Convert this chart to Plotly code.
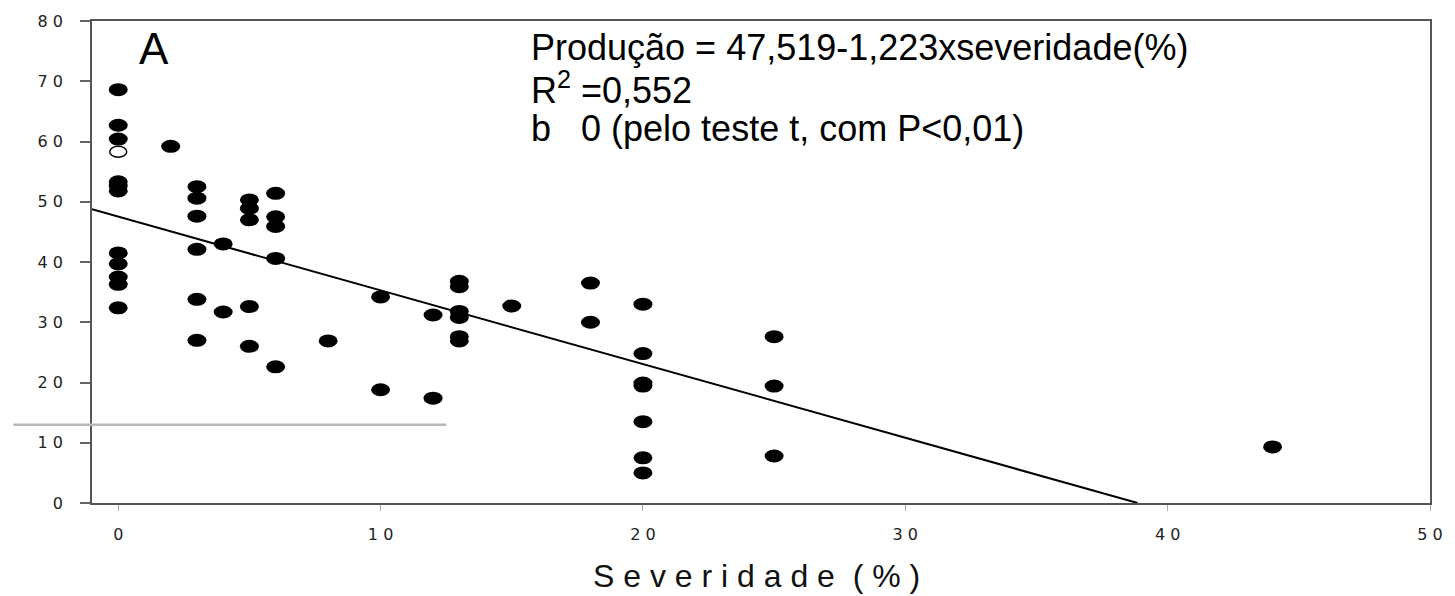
import plotly.graph_objects as go

# Observed yield (Produção) against leaf severity (%)
severidade = [0, 0, 0, 0, 0, 0, 0, 0, 0, 0, 0,
              2,
              3, 3, 3, 3, 3, 3,
              4, 4,
              5, 5, 5, 5, 5,
              6, 6, 6, 6, 6,
              8,
              10, 10,
              12, 12,
              13, 13, 13, 13, 13, 13,
              15,
              18, 18,
              20, 20, 20, 20, 20, 20, 20,
              25, 25, 25,
              44]
producao = [68.6, 62.7, 60.4, 53.3, 52.6, 51.8, 41.5, 39.7, 37.5, 36.3, 32.4,
            59.2,
            52.5, 50.6, 47.6, 42.1, 33.8, 27.0,
            43.0, 31.7,
            50.3, 48.9, 47.0, 32.6, 26.0,
            51.4, 47.5, 45.9, 40.6, 22.6,
            26.9,
            34.2, 18.8,
            31.2, 17.4,
            36.8, 35.9, 31.8, 30.8, 27.6, 26.9,
            32.7,
            36.5, 30.0,
            33.0, 24.8, 19.9, 19.4, 13.5, 7.5, 5.0,
            27.6, 19.4, 7.8,
            9.3]

# Single open-symbol observation
severidade_aberto = [0]
producao_aberto = [58.3]

# Fitted regression: Produção = a + b * severidade
intercepto = 47.519
inclinacao = -1.223

x_ticks = [0, 10, 20, 30, 40, 50]
y_ticks = [0, 10, 20, 30, 40, 50, 60, 70, 80]
x_range = [-1, 50]
y_range = [0, 80]

# light horizontal guide stroke at the lower left
guia_y = 13
guia_x = [-4, 12.5]

equacao = "Produção = 47,519-1,223xseveridade(%)"
r2_texto = "R<sup>2</sup> =0,552"
teste_texto = "b\u00a0\u00a0\u00a00 (pelo teste t, com P<0,01)"
painel = "A"
titulo_x = "S e v e r i d a d e \u00a0( % )"


def spaced(v):
    return " ".join(str(v))


fig = go.Figure()

# regression line from the left edge down to where it crosses zero
x_fim = -intercepto / inclinacao
x_linha = [x_range[0], x_fim]
y_linha = [intercepto + inclinacao * v for v in x_linha]
fig.add_trace(go.Scatter(x=x_linha, y=y_linha, mode="lines",
                         line=dict(color="black", width=2),
                         hoverinfo="skip", showlegend=False))

# invisible points carry the hover values
fig.add_trace(go.Scatter(x=severidade + severidade_aberto,
                         y=producao + producao_aberto, mode="markers",
                         marker=dict(size=14, opacity=0),
                         showlegend=False))

# elliptical markers, fixed pixel size anchored at each data point
shapes = []
half_w, half_h = 9.5, 6.5
for sx, py in zip(severidade, producao):
    shapes.append(dict(type="circle", xref="x", yref="y",
                       xsizemode="pixel", ysizemode="pixel",
                       xanchor=sx, yanchor=py,
                       x0=-half_w, x1=half_w, y0=-half_h, y1=half_h,
                       fillcolor="black", line=dict(width=0)))
for sx, py in zip(severidade_aberto, producao_aberto):
    shapes.append(dict(type="circle", xref="x", yref="y",
                       xsizemode="pixel", ysizemode="pixel",
                       xanchor=sx, yanchor=py,
                       x0=-half_w + 1, x1=half_w - 1, y0=-half_h + 1, y1=half_h - 1,
                       fillcolor="white", line=dict(width=1.5, color="black")))

span_x = x_range[1] - x_range[0]
span_y = y_range[1] - y_range[0]
shapes.append(dict(type="line", xref="paper", yref="paper",
                   x0=(guia_x[0] - x_range[0]) / span_x,
                   x1=(guia_x[1] - x_range[0]) / span_x,
                   y0=(guia_y - y_range[0]) / span_y,
                   y1=(guia_y - y_range[0]) / span_y,
                   line=dict(color="#b8b8b8", width=2.5)))

eq_font = dict(family="Liberation Sans, Arial, sans-serif", size=36, color="black")
annotations = [
    dict(text=painel, xref="paper", yref="paper", x=0.0467, y=0.942,
         xanchor="center", yanchor="middle", showarrow=False,
         font=dict(family="Liberation Sans, Arial, sans-serif", size=44, color="black")),
    dict(text=equacao, xref="paper", yref="paper", x=0.3267, y=0.946,
         xanchor="left", yanchor="middle", showarrow=False, font=eq_font),
    dict(text=r2_texto, xref="paper", yref="paper", x=0.3267, y=0.86,
         xanchor="left", yanchor="middle", showarrow=False, font=eq_font),
    dict(text=teste_texto, xref="paper", yref="paper", x=0.3267, y=0.776,
         xanchor="left", yanchor="middle", showarrow=False, font=eq_font),
    dict(text=titulo_x, xref="paper", yref="paper", x=0.497, y=-0.151,
         xanchor="center", yanchor="middle", showarrow=False,
         font=dict(family="Liberation Sans, Arial, sans-serif", size=32, color="#111")),
]

tick_font = dict(family="DejaVu Sans, sans-serif", size=16, color="#222")

fig.update_layout(
    width=1455, height=596,
    margin=dict(l=92, r=13, t=18, b=93),
    paper_bgcolor="white", plot_bgcolor="white",
    shapes=shapes, annotations=annotations,
    xaxis=dict(range=x_range, tickvals=x_ticks, ticktext=[spaced(v) for v in x_ticks],
               showgrid=False, zeroline=False, showline=True, mirror=True,
               linecolor="#555", linewidth=1.5,
               ticks="outside", ticklen=6, tickcolor="#aaa", tickwidth=1,
               tickfont=tick_font, ticklabelstandoff=10),
    yaxis=dict(range=y_range, tickvals=y_ticks, ticktext=[spaced(v) for v in y_ticks],
               showgrid=False, zeroline=False, showline=True, mirror=True,
               linecolor="#555", linewidth=1.5,
               ticks="outside", ticklen=10, tickcolor="#666", tickwidth=1.5,
               tickfont=tick_font, ticklabelstandoff=14),
)

fig.write_html("out.html")
